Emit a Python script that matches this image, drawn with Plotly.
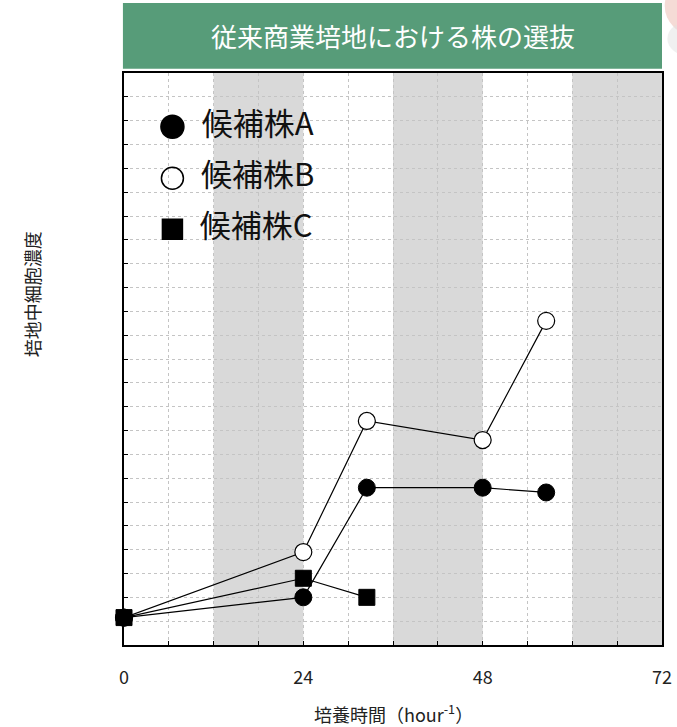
import plotly.graph_objects as go

# Culture time (h) and relative cell density for each candidate strain
hours_a = [0, 24, 32.5, 48, 56.5]
density_a = [1.15, 2.0, 6.6, 6.6, 6.4]

hours_b = [0, 24, 32.5, 48, 56.5]
density_b = [1.15, 3.9, 9.4, 8.6, 13.6]

hours_c = [0, 24, 32.5]
density_c = [1.15, 2.8, 2.0]

strain_names = ["候補株A", "候補株B", "候補株C"]
x_tick_vals = list(range(0, 73, 6))
x_tick_text = [str(v) if v % 24 == 0 else "" for v in x_tick_vals]
y_tick_vals = list(range(0, 25))

FONT = "Noto Sans CJK JP"
fig = go.Figure()

line_style = dict(color="black", width=1.2)
fig.add_trace(go.Scatter(
    x=hours_b, y=density_b, mode="lines+markers", line=line_style,
    marker=dict(symbol="circle", size=17, color="white", line=dict(color="black", width=1.2)),
    name=strain_names[1], showlegend=False, cliponaxis=False))
fig.add_trace(go.Scatter(
    x=hours_a, y=density_a, mode="lines+markers", line=line_style,
    marker=dict(symbol="circle", size=17, color="black", line=dict(color="black", width=1)),
    name=strain_names[0], showlegend=False, cliponaxis=False))
fig.add_trace(go.Scatter(
    x=hours_c, y=density_c, mode="lines+markers", line=line_style,
    marker=dict(symbol="square", size=16, color="black", line=dict(color="black", width=1)),
    name=strain_names[2], showlegend=False, cliponaxis=False))

# Large-marker key drawn on an overlay axis in the upper-left of the plot
fig.add_trace(go.Scatter(
    x=[0.09, 0.09, 0.09], y=[0.906, 0.816, 0.727],
    xaxis="x2", yaxis="y2", mode="markers+text",
    marker=dict(symbol=["circle", "circle-open", "square"], size=[23, 22, 20],
                color="black", opacity=1, line=dict(color="black", width=1.5)),
    text=["  " + s for s in strain_names], textposition="middle right",
    textfont=dict(family=FONT, size=31, color="#111111"),
    showlegend=False, hoverinfo="skip"))

# Shaded (dark-period) bands
shapes = []
for x0 in (12, 36, 60):
    shapes.append(dict(type="rect", xref="x", yref="y domain", x0=x0, x1=x0 + 12,
                       y0=0, y1=1, fillcolor="#d9d9d9", line=dict(width=0), layer="below"))
# Soft decorative blush in the top-right corner
shapes.append(dict(type="circle", xref="paper", yref="paper", x0=1.005, x1=1.12,
                   y0=1.065, y1=1.17, fillcolor="rgba(232,175,165,0.45)",
                   line=dict(width=0), layer="above"))
shapes.append(dict(type="circle", xref="paper", yref="paper", x0=1.01, x1=1.09,
                   y0=1.03, y1=1.09, fillcolor="rgba(225,225,225,0.5)",
                   line=dict(width=0), layer="above"))
# Title banner
shapes.append(dict(type="rect", xref="paper", yref="paper", x0=-0.002, x1=1.0,
                   y0=1.0075, y1=1.1225, fillcolor="#579c79", line=dict(width=0), layer="above"))

fig.update_layout(
    width=677, height=727,
    margin=dict(l=124, r=15, t=73, b=82),
    paper_bgcolor="white", plot_bgcolor="white",
    font=dict(family=FONT, size=16, color="#222222"),
    shapes=shapes,
    xaxis=dict(range=[0, 72], tickvals=x_tick_vals, ticktext=x_tick_text,
               ticks="inside", ticklen=4, tickcolor="black", ticklabelstandoff=16,
               showgrid=True, gridcolor="#c4c4c4", griddash="dot", gridwidth=1,
               showline=True, linecolor="black", linewidth=1.5, mirror=True,
               zeroline=False, automargin=False, tickfont=dict(size=18, color="#222222")),
    yaxis=dict(range=[0, 24], tickvals=y_tick_vals, ticktext=[""] * len(y_tick_vals),
               ticks="inside", ticklen=4, tickcolor="black",
               showgrid=True, gridcolor="#c4c4c4", griddash="dot", gridwidth=1,
               showline=True, linecolor="black", linewidth=1.5, mirror=True,
               zeroline=False, automargin=False),
    xaxis2=dict(overlaying="x", range=[0, 1], visible=False, fixedrange=True),
    yaxis2=dict(overlaying="y", range=[0, 1], visible=False, fixedrange=True),
    annotations=[
        dict(text="従来商業培地における株の選抜", xref="paper", yref="paper",
             x=0.5, y=1.065, xanchor="center", yanchor="middle", showarrow=False,
             font=dict(family=FONT, size=26, color="white")),
        dict(text="培地中細胞濃度", xref="paper", yref="paper", x=-0.171, y=0.613,
             xanchor="center", yanchor="middle", textangle=-90, showarrow=False,
             font=dict(family=FONT, size=18, color="#222222")),
        dict(text="培養時間（hour<sup>-1</sup>）", xref="paper", yref="paper",
             x=0.5, y=-0.119, xanchor="center", yanchor="middle", showarrow=False,
             font=dict(family=FONT, size=18, color="#222222")),
    ],
)

fig.write_html("out.html")
